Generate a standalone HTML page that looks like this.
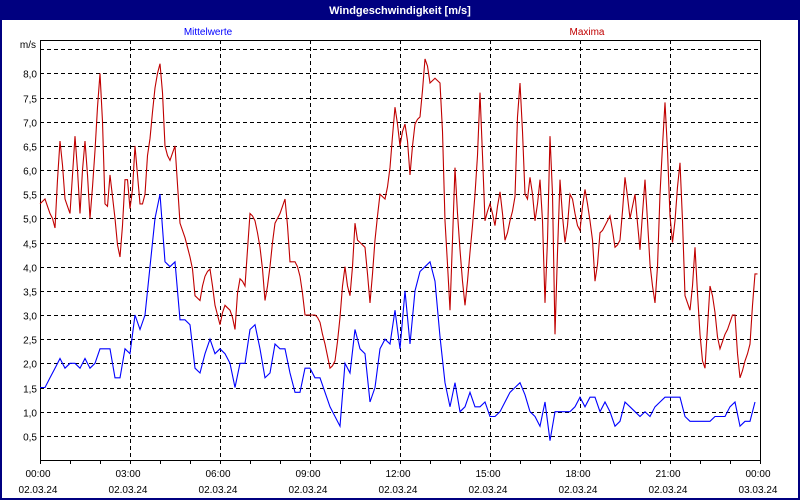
<!DOCTYPE html>
<html><head><meta charset="utf-8"><style>
html,body{margin:0;padding:0;background:#fff;}
svg{display:block;font-family:"Liberation Sans",sans-serif;}
</style></head><body>
<svg width="800" height="500" viewBox="0 0 800 500">
<rect x="0" y="0" width="800" height="500" fill="#fff"/>
<rect x="1" y="1" width="798" height="498" fill="none" stroke="#000080" stroke-width="2"/>
<rect x="0" y="0" width="800" height="20" fill="#000080"/>
<text x="400" y="14" fill="#fff" font-size="11" font-weight="bold" text-anchor="middle">Windgeschwindigkeit [m/s]</text>
<text x="208" y="35" fill="#0000ff" font-size="10" text-anchor="middle">Mittelwerte</text>
<text x="587" y="35" fill="#c00000" font-size="10" text-anchor="middle">Maxima</text>
<text x="36" y="48" fill="#000" font-size="10" text-anchor="end">m/s</text>
<g id="grid"></g>
<g id="axes"></g>
<g id="series"></g>
</svg>
<script>
const yTicks=[0.5,1,1.5,2,2.5,3,3.5,4,4.5,5,5.5,6,6.5,7,7.5,8,8.5];
const xTickHours=[0,3,6,9,12,15,18,21,24];
const xTickTimes=["00:00","03:00","06:00","09:00","12:00","15:00","18:00","21:00","00:00"];
const xTickDates=["02.03.24","02.03.24","02.03.24","02.03.24","02.03.24","02.03.24","02.03.24","02.03.24","03.03.24"];
const meanStepMin=10;
const maxStepMin=5;
const meanValues=[1.5,1.5,1.7,1.9,2.1,1.9,2.0,2.0,1.9,2.1,1.9,2.0,2.3,2.3,2.3,1.7,1.7,2.3,2.2,3.0,2.7,3.0,4.0,5.0,5.5,4.1,4.0,4.1,2.9,2.9,2.8,1.9,1.8,2.2,2.5,2.2,
2.3,2.2,2.0,1.5,2.0,2.0,2.7,2.8,2.3,1.7,1.8,2.4,2.3,2.3,1.8,1.4,1.4,1.9,1.9,1.7,1.7,1.4,1.1,0.9,0.7,2.0,1.8,2.7,2.3,2.2,1.2,1.5,2.3,2.5,2.4,3.1,
2.3,3.5,2.4,3.5,3.9,4.0,4.1,3.7,2.55,1.6,1.1,1.6,1.0,1.1,1.4,1.1,1.1,1.2,0.9,0.9,1.0,1.2,1.4,1.5,1.6,1.35,1.0,0.9,0.7,1.2,0.4,1.0,1.0,1.0,1.0,1.1,
1.3,1.1,1.3,1.3,1.0,1.2,1.0,0.7,0.8,1.2,1.1,1.0,0.9,1.0,0.9,1.1,1.2,1.3,1.3,1.3,1.3,0.9,0.8,0.8,0.8,0.8,0.8,0.9,0.9,0.9,1.1,1.2,0.7,0.8,0.8,1.2];
const maxValues=[5.3,5.35,5.4,5.25,5.1,5.0,4.8,5.8,6.6,6.1,5.4,5.25,5.1,5.9,6.7,6.0,5.1,6.0,6.6,5.9,5.0,5.65,6.4,7.3,8.0,7.0,5.3,5.25,5.9,5.45,5.0,4.45,4.2,4.85,5.8,5.8,
5.2,5.6,6.5,5.9,5.3,5.3,5.5,6.3,6.65,7.2,7.7,8.0,8.2,7.6,6.5,6.3,6.2,6.35,6.5,5.7,4.9,4.75,4.6,4.4,4.2,3.95,3.4,3.35,3.3,3.6,3.8,3.9,3.95,3.6,3.2,3.0,
2.8,3.05,3.2,3.15,3.1,2.95,2.7,3.45,3.75,3.7,3.6,4.35,5.1,5.05,4.95,4.7,4.4,3.95,3.3,3.6,4.0,4.5,4.9,5.0,5.1,5.25,5.4,4.85,4.1,4.1,4.1,4.0,3.8,3.45,3.0,3.0,
3.0,3.0,3.0,2.95,2.85,2.6,2.4,2.15,1.9,1.95,2.05,2.45,2.95,3.6,4.0,3.6,3.4,4.0,4.9,4.55,4.5,4.45,4.4,3.85,3.25,3.85,4.55,5.05,5.5,5.45,5.4,5.65,6.05,6.7,7.3,6.95,
6.5,6.8,6.95,6.6,5.9,6.5,6.95,7.05,7.1,7.65,8.3,8.15,7.8,7.85,7.9,7.85,7.8,6.8,4.95,4.05,3.1,4.55,6.05,5.1,4.35,3.7,3.2,3.7,4.3,4.85,5.5,6.3,7.6,6.3,4.95,5.15,
5.3,5.1,4.85,5.25,5.55,5.1,4.55,4.7,4.95,5.15,5.45,7.1,7.8,6.8,5.5,5.4,5.85,5.5,4.95,5.3,5.8,4.95,3.25,4.55,6.7,5.5,2.6,4.3,5.8,5.05,4.5,4.85,5.5,5.4,5.1,4.85,
4.75,5.25,5.6,5.3,4.95,4.55,3.7,4.05,4.7,4.75,4.85,4.95,5.05,4.75,4.4,4.45,4.55,5.15,5.85,5.45,5.0,5.25,5.5,4.9,4.35,5.1,5.8,4.95,4.05,3.6,3.25,4.0,5.5,6.5,7.4,6.4,
5.05,4.5,4.95,5.65,6.15,4.95,3.4,3.25,3.1,3.6,4.4,3.45,2.6,2.05,1.9,2.75,3.6,3.4,3.05,2.55,2.3,2.45,2.6,2.7,2.85,3.0,3.0,2.2,1.7,1.85,2.05,2.2,2.4,3.2,3.85,3.85];

const NS='http://www.w3.org/2000/svg';
const X0=40,X1=760,Y0=460,PXH=30,PXV=48.33;
function xs(h){return X0+h*PXH;}
function ys(v){return Y0-v*PXV;}
function mk(tag,attrs,parent){const e=document.createElementNS(NS,tag);for(const k in attrs)e.setAttribute(k,attrs[k]);parent.appendChild(e);return e;}
const grid=document.getElementById('grid'),axes=document.getElementById('axes'),series=document.getElementById('series');

yTicks.forEach(v=>{
  const y=Math.round(ys(v))+0.5;
  const l=mk('line',{x1:X0,x2:X1,y1:y,y2:y,stroke:'#000','stroke-dasharray':'4,3','shape-rendering':'crispEdges'},grid);
  
  
  if(v<=8){
    const t=mk('text',{x:37,y:y+4,'font-size':10,'text-anchor':'end',fill:'#000'},axes);
    t.textContent=v.toFixed(1).replace('.',',');
    
    
  }
});
xTickHours.forEach((h,i)=>{
  const x=Math.round(xs(h))+0.5;
  if(h>0&&h<24){
    const l=mk('line',{x1:x,x2:x,y1:X0,y2:Y0,stroke:'#000','stroke-dasharray':'4,3','shape-rendering':'crispEdges'},grid);
    
    
  }
  const t1=mk('text',{x:Math.round(xs(h))-2,y:477,'font-size':10,'text-anchor':'middle',fill:'#000'},axes);
  t1.textContent=xTickTimes[i];
  
  
  const t2=mk('text',{x:Math.round(xs(h))-2,y:493,'font-size':10,'text-anchor':'middle',fill:'#000'},axes);
  t2.textContent=xTickDates[i];
  
  
});
for(let h=0;h<=24;h++){
  const x=Math.round(xs(h))+0.5;
  const l=mk('line',{x1:x,x2:x,y1:Y0,y2:Y0+4,stroke:'#000','shape-rendering':'crispEdges'},axes);
  
  
}
const frame=mk('path',{d:`M${X0+0.5},${Y0+0.5} V${X0+0.5} H${X1+0.5} V${Y0+0.5} H${X0+0.5}`,fill:'none',stroke:'#000','shape-rendering':'crispEdges'},axes);



function line(vals,step,color,name){
  const pts=vals.map((v,i)=>xs(i*step/60).toFixed(1)+','+ys(v).toFixed(1)).join(' ');
  const p=mk('polyline',{points:pts,fill:'none',stroke:color,'stroke-width':1.1,'stroke-linejoin':'miter'},series);
  
  
}
line(maxValues,maxStepMin,'#c00000','maxima-line');
line(meanValues,meanStepMin,'#0000ff','mittelwerte-line');
</script>
</body></html>
